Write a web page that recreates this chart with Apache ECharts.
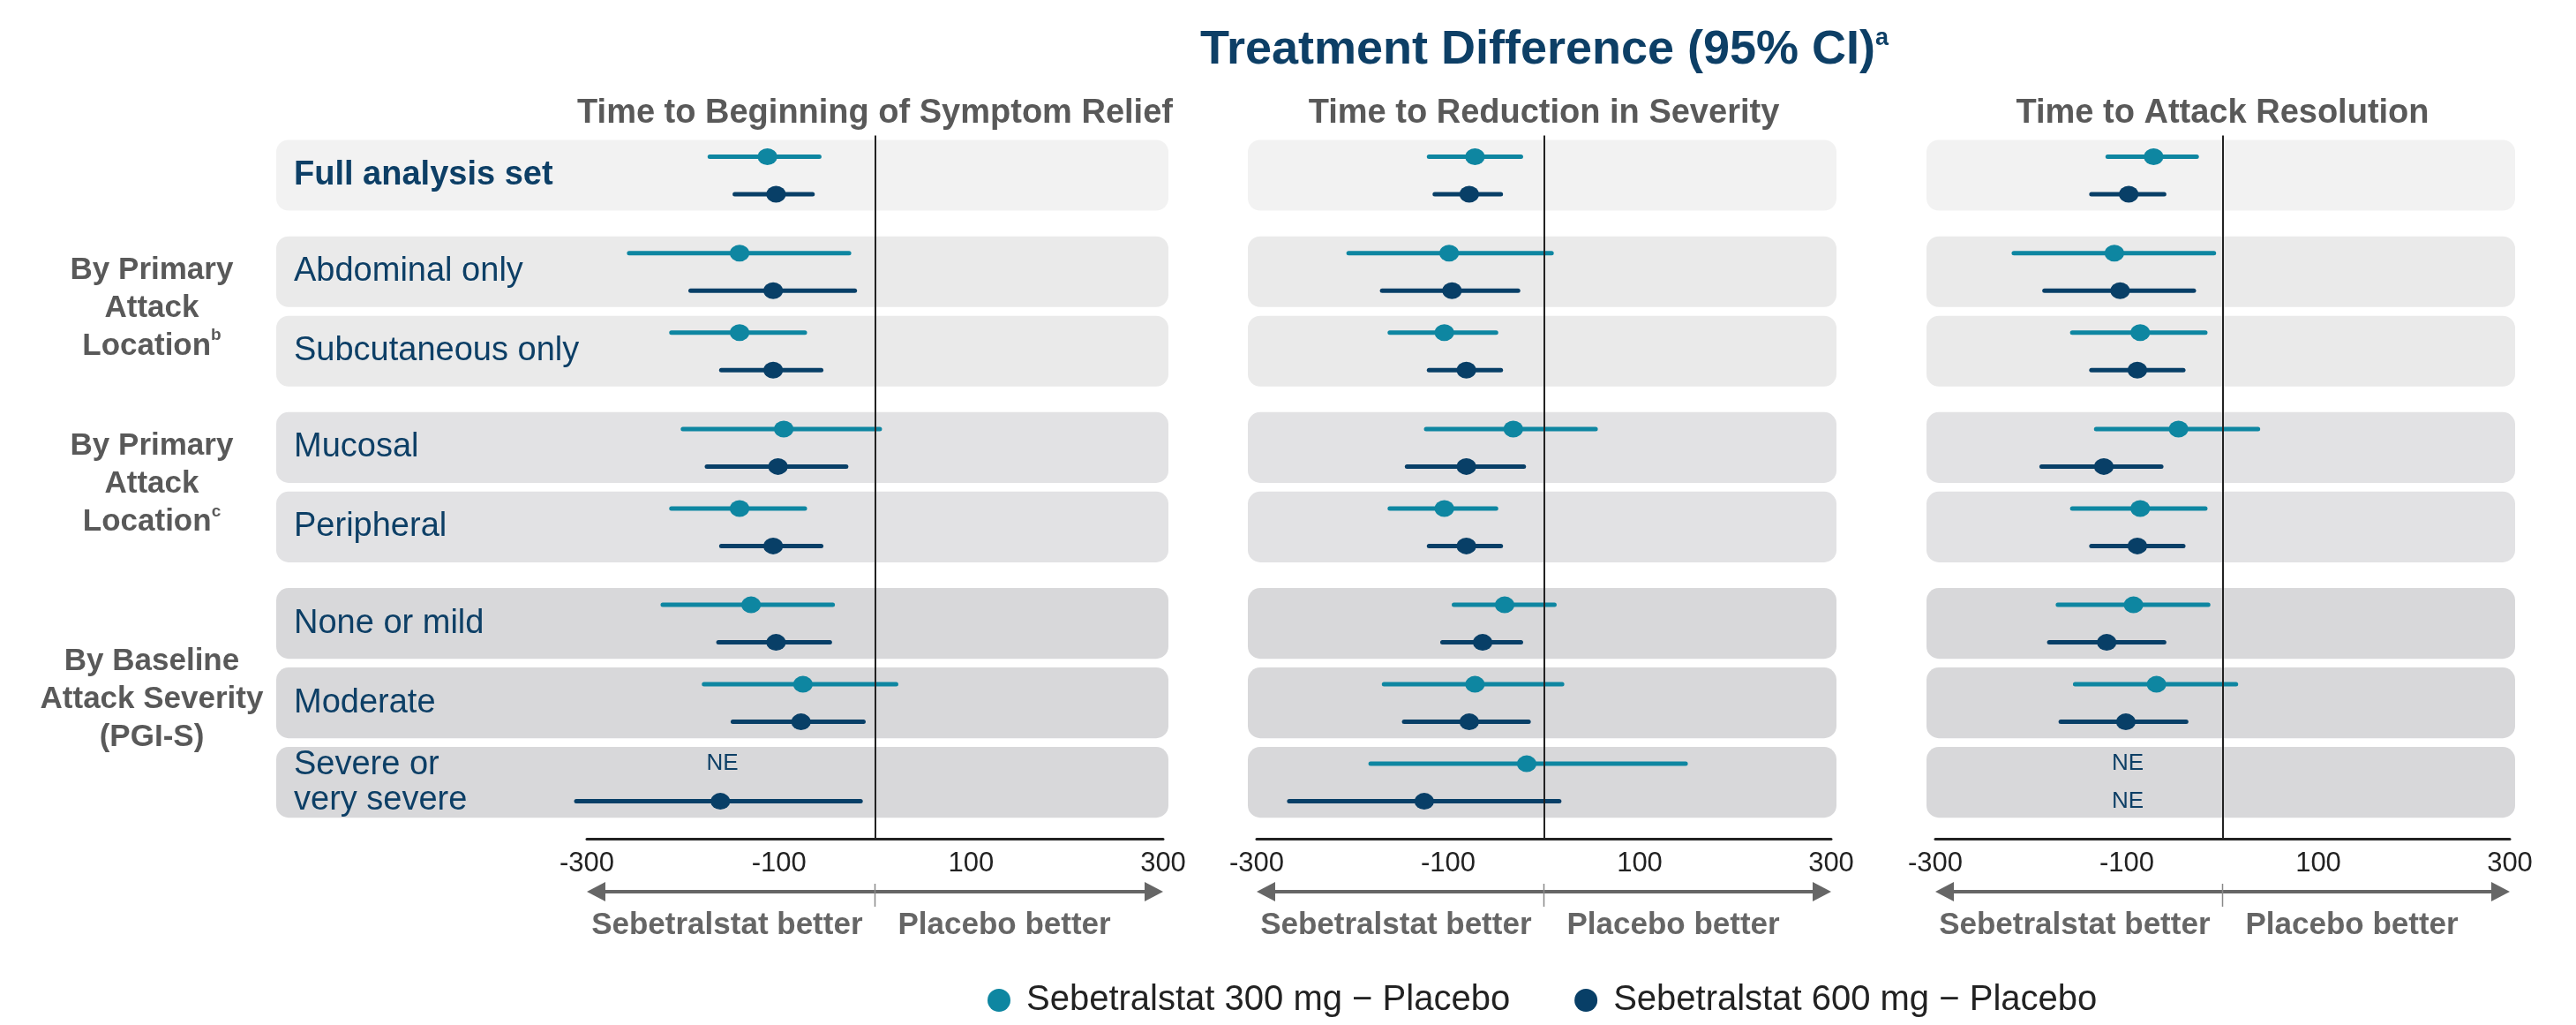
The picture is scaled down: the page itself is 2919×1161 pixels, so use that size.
<!DOCTYPE html>
<html><head><meta charset="utf-8">
<script src="https://cdn.jsdelivr.net/npm/echarts@6/dist/echarts.min.js"></script>
<style>html,body{margin:0;padding:0;background:#fff}#c{width:2919px;height:1161px}</style>
</head><body><div id="c"></div>
<script>
const FONT = '"Liberation Sans", Arial, Helvetica, sans-serif';

// ---------- data ----------
const categories = ['Full analysis set', 'Abdominal only', 'Subcutaneous only', 'Mucosal', 'Peripheral',
  'None or mild', 'Moderate', 'Severe or\nvery severe'];
const rowGroup = [0, 1, 1, 2, 2, 3, 3, 3];
const groupLabels = [null, 'By Primary\nAttack\nLocation{sup|b}', 'By Primary\nAttack\nLocation{sup|c}',
  'By Baseline\nAttack Severity\n(PGI-S)'];
const panelTitles = ['Time to Beginning of Symptom Relief', 'Time to Reduction in Severity', 'Time to Attack Resolution'];
const seriesNames = ['Sebetralstat 300 mg \u2212 Placebo', 'Sebetralstat 600 mg \u2212 Placebo'];
const xMin = -300, xMax = 300, xInterval = 200;   // tick labels -300, -100, 100, 300

// Panel 1: Time to Beginning of Symptom Relief
const p1Est300 = [-112, -141, -141, -95, -141, -129, -75, null];
const p1Lo300  = [-172, -256, -212, -200, -212, -221, -178, null];
const p1Hi300  = [-58, -27, -73, 5, -73, -44, 22, null];
const p1Est600 = [-103, -106, -106, -101, -106, -103, -77, -161];
const p1Lo600  = [-146, -192, -160, -175, -160, -163, -148, -311];
const p1Hi600  = [-65, -21, -56, -30, -56, -47, -12, -15];
// Panel 2: Time to Reduction in Severity
const p2Est300 = [-72, -99, -104, -32, -104, -41, -72, -18];
const p2Lo300  = [-120, -204, -161, -123, -161, -94, -167, -181];
const p2Hi300  = [-24, 8, -50, 54, -50, 11, 19, 148];
const p2Est600 = [-78, -96, -81, -81, -81, -64, -78, -125];
const p2Lo600  = [-114, -169, -120, -143, -120, -106, -146, -266];
const p2Hi600  = [-45, -27, -45, -21, -45, -24, -16, 16];
// Panel 3: Time to Attack Resolution
const p3Est300 = [-72, -113, -86, -46, -86, -93, -69, null];
const p3Lo300  = [-120, -218, -157, -132, -157, -172, -154, null];
const p3Hi300  = [-27, -9, -18, 37, -18, -15, 14, null];
const p3Est600 = [-98, -107, -89, -124, -89, -121, -101, null];
const p3Lo600  = [-137, -186, -137, -189, -137, -181, -169, null];
const p3Hi600  = [-61, -30, -41, -64, -41, -61, -38, null];
// x position of the "NE" (not estimable) marks per panel
const neX = [-159, 0, -99];

// ---------- styles / layout ----------
const colors = ['#0e86a1', '#083f67'];
const bgColors = ['#f2f2f2', '#eaeaea', '#e2e2e4', '#d8d8da'];
const navy = '#0d3f66';
const grey = '#595959';
const gridLeft = [665, 1424, 2193];
const gridWidth = [653, 651, 651];
const gridTop = 153.5, gridHeight = 796.5;
const GROUP_GAP = 0.2133, ROW_HALF = 0.445, OFF300 = -0.233, OFF600 = 0.239;
const yOf = r => r + GROUP_GAP * rowGroup[r];

const panels = [
  [[p1Est300, p1Lo300, p1Hi300], [p1Est600, p1Lo600, p1Hi600]],
  [[p2Est300, p2Lo300, p2Hi300], [p2Est600, p2Lo600, p2Hi600]],
  [[p3Est300, p3Lo300, p3Hi300], [p3Est600, p3Lo600, p3Hi600]]
];

const grids = [], xAxes = [], yAxes = [], series = [];

panels.forEach((panel, p) => {
  grids.push({left: gridLeft[p], top: gridTop, width: gridWidth[p], height: gridHeight});
  xAxes.push({type: 'value', gridIndex: p, min: xMin, max: xMax, interval: xInterval,
    axisLine: {show: true, onZero: false, lineStyle: {color: '#222', width: 3}},
    axisTick: {show: false}, splitLine: {show: false},
    axisLabel: {show: true, fontSize: 31, color: '#222', fontFamily: FONT, margin: 13,
      showMinLabel: true, showMaxLabel: true}});
  yAxes.push({type: 'value', gridIndex: p, inverse: true, min: -0.5, max: 8.35, show: false});

  // row backgrounds (+ row labels in first panel) + zero line
  series.push({
    type: 'custom', xAxisIndex: p, yAxisIndex: p, z: 1, silent: true,
    data: categories.map((c, r) => [0, yOf(r), r]),
    encode: {x: 0, y: 1},
    renderItem: (params, api) => {
      const r = api.value(2), y = api.value(1), cs = params.coordSys;
      const top = api.coord([0, y - ROW_HALF])[1];
      const bot = api.coord([0, y + ROW_HALF])[1];
      const left = p === 0 ? cs.x - 352 : cs.x - 10;
      const right = cs.x + cs.width + 6;
      const children = [{type: 'rect', shape: {x: left, y: top, width: right - left, height: bot - top, r: 14},
        style: {fill: bgColors[rowGroup[r]]}}];
      if (p === 0) {
        children.push({type: 'text', style: {text: categories[r], x: left + 20, y: (top + bot) / 2,
          align: 'left', verticalAlign: 'middle', fill: navy, fontSize: 38, lineHeight: 40,
          fontWeight: r === 0 ? 'bold' : 'normal', fontFamily: FONT}});
      }
      return {type: 'group', children};
    },
    markLine: {silent: true, symbol: 'none', label: {show: false},
      lineStyle: {color: '#222', width: 2, type: 'solid'}, data: [{xAxis: 0}]}
  });

  // confidence intervals and point estimates
  panel.forEach((set, d) => {
    const [est, lo, hi] = set;
    const off = d === 0 ? OFF300 : OFF600;
    const ciData = [], ptData = [], neData = [];
    est.forEach((v, r) => {
      if (v === null) neData.push([neX[p], yOf(r) + off]);
      else { ciData.push([lo[r], hi[r], yOf(r) + off]); ptData.push([v, yOf(r) + off]); }
    });
    series.push({
      type: 'custom', name: seriesNames[d], xAxisIndex: p, yAxisIndex: p, z: 3, silent: true,
      itemStyle: {color: colors[d]}, data: ciData, encode: {x: [0, 1], y: 2},
      renderItem: (params, api) => {
        const a = api.coord([api.value(0), api.value(2)]);
        const b = api.coord([api.value(1), api.value(2)]);
        return {type: 'line', shape: {x1: a[0], y1: a[1], x2: b[0], y2: b[1]},
          style: {stroke: colors[d], lineWidth: 5, lineCap: 'round'}};
      }
    });
    series.push({
      type: 'scatter', name: seriesNames[d], xAxisIndex: p, yAxisIndex: p, z: 4, silent: true,
      symbol: 'circle', symbolSize: [22, 19], itemStyle: {color: colors[d], opacity: 1},
      data: ptData
    });
    if (neData.length) {
      series.push({
        type: 'custom', xAxisIndex: p, yAxisIndex: p, z: 4, silent: true, data: neData, encode: {x: 0, y: 1},
        renderItem: (params, api) => {
          const c = api.coord([api.value(0), api.value(1)]);
          return {type: 'text', style: {text: 'NE', x: c[0], y: c[1], align: 'center', verticalAlign: 'middle',
            fill: navy, fontSize: 26, fontFamily: FONT}};
        }
      });
    }
  });

  // direction arrow and labels under each axis, panel title above
  series.push({
    type: 'custom', xAxisIndex: p, yAxisIndex: p, z: 2, silent: true, data: [[0, 0]], encode: {x: 0, y: 1},
    renderItem: (params, api) => {
      const cs = params.coordSys;
      const base = cs.y + cs.height;
      const ay = base + 60;
      const xl = api.coord([xMin, 0])[0], xr = api.coord([xMax, 0])[0], x0 = api.coord([0, 0])[0];
      const g = '#666666';
      return {type: 'group', children: [
        {type: 'line', shape: {x1: xl + 15, y1: ay, x2: xr - 15, y2: ay}, style: {stroke: g, lineWidth: 4}},
        {type: 'polygon', shape: {points: [[xl, ay], [xl + 21, ay - 11], [xl + 21, ay + 11]]}, style: {fill: g}},
        {type: 'polygon', shape: {points: [[xr, ay], [xr - 21, ay - 11], [xr - 21, ay + 11]]}, style: {fill: g}},
        {type: 'line', shape: {x1: x0, y1: ay - 9, x2: x0, y2: ay + 17}, style: {stroke: '#888', lineWidth: 1.5}},
        {type: 'text', style: {text: 'Sebetralstat better', x: x0 - 14, y: base + 98, align: 'right',
          verticalAlign: 'middle', fill: g, fontSize: 35, fontWeight: 'bold', fontFamily: FONT}},
        {type: 'text', style: {text: 'Placebo better', x: x0 + 26, y: base + 98, align: 'left',
          verticalAlign: 'middle', fill: g, fontSize: 35, fontWeight: 'bold', fontFamily: FONT}},
        {type: 'text', style: {text: panelTitles[p], x: x0, y: cs.y - 25, align: 'center',
          verticalAlign: 'middle', fill: grey, fontSize: 38, fontWeight: 'bold', fontFamily: FONT}}
      ]};
    }
  });
});

// group labels on the left
series.push({
  type: 'custom', xAxisIndex: 0, yAxisIndex: 0, z: 2, silent: true,
  data: groupLabels.map((t, g) => {
    const rs = rowGroup.map((gg, r) => gg === g ? yOf(r) : null).filter(v => v !== null);
    return [0, (rs[0] + rs[rs.length - 1]) / 2 - 0.04, g];
  }).filter(d => groupLabels[d[2]]),
  encode: {x: 0, y: 1},
  renderItem: (params, api) => {
    const c = api.coord([0, api.value(1)]);
    return {type: 'text', style: {text: groupLabels[api.value(2)], x: params.coordSys.x - 493, y: c[1],
      align: 'center', verticalAlign: 'middle', fill: grey, fontSize: 35, fontWeight: 'bold',
      lineHeight: 43, fontFamily: FONT,
      rich: {sup: {fontSize: 19, fontWeight: 'bold', fill: grey, fontFamily: FONT, lineHeight: 36, verticalAlign: 'top'}}}};
  }
});

const chart = echarts.init(document.getElementById('c'), null, {renderer: 'canvas'});
chart.setOption({
  animation: false,
  backgroundColor: '#ffffff',
  grid: grids, xAxis: xAxes, yAxis: yAxes, series: series,
  graphic: [{
    type: 'text', x: 1750, y: 57, silent: true,
    style: {text: 'Treatment Difference (95% CI){sup|a}', align: 'center', verticalAlign: 'middle',
      fill: navy, fontSize: 54, fontWeight: 'bold', fontFamily: FONT,
      rich: {sup: {fontSize: 27, fontWeight: 'bold', fill: navy, fontFamily: FONT, lineHeight: 50, verticalAlign: 'top'}}}
  }],
  legend: {
    data: seriesNames.map(n => ({name: n, icon: 'circle'})),
    left: 1114, top: 1108, itemWidth: 26, itemHeight: 28, itemGap: 73,
    selectedMode: false,
    textStyle: {fontSize: 40, color: '#222', fontFamily: FONT, padding: [0, 0, 0, 13]}
  }
});
</script></body></html>
